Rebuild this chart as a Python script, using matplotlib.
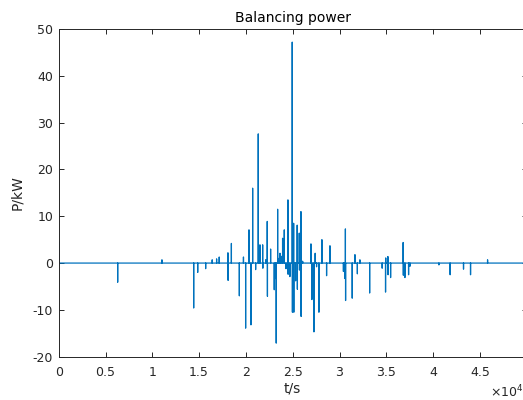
import matplotlib
matplotlib.use('Agg')
import matplotlib.pyplot as plt
import numpy as np

plt.rcParams['font.family'] = ['DejaVu Sans']
plt.rcParams['axes.unicode_minus'] = False

# spike times (s) and balancing power values (kW)
spike_t = [0, 6300, 11030, 14420, 14850, 15700, 16400, 16870, 17150,
           18080, 18100, 18450, 19300, 19740, 19970, 20330, 20540, 20720,
           21040, 21320, 21500, 21790, 21810, 22110, 22280, 22300, 22640,
           23030, 23170, 23240, 23390, 23530, 23640, 23740, 23920, 24100,
           24280, 24490, 24510, 24700, 24950, 24970, 25100, 25120, 25310,
           25480, 25500, 25700, 25720, 25880, 25900, 26060, 26950, 27050,
           27270, 27400, 27550, 27800, 28120, 28620, 28980, 30420, 30550,
           30630, 30650, 31360, 31650, 31910, 32180, 33220, 34560, 34920,
           34940, 35170, 35190, 35460, 36800, 36820, 36990, 37380, 37520,
           40620, 41820, 43250, 44000, 45820]
spike_p = [4.6, -4.1, 0.7, -9.6, -2.0, -1.2, 0.7, 0.9, 1.3,
           2.2, -3.7, 4.2, -7.0, 1.3, -13.9, 7.1, -13.2, 16.0,
           -1.4, 27.6, 3.9, 3.9, -1.1, 0.7, 8.9, -7.1, 3.0,
           -5.7, -3.3, -17.1, 11.5, 1.0, 2.1, 1.5, 5.3, 7.1,
           -1.2, 13.5, -2.4, -2.9, 47.2, -10.5, 8.5, -10.5, -3.8,
           8.1, -5.6, 6.4, -1.5, 11.0, -11.4, 0.4, 4.1, -7.8,
           -14.7, 2.1, -0.8, -10.5, 5.0, -2.7, 3.7, -1.8, -3.3,
           7.3, -8.0, -7.5, 1.8, -2.3, 0.7, -6.4, -1.1, -6.2,
           1.1, 1.4, -2.5, -3.1, 4.4, -2.6, -3.1, -2.5, -0.7,
           -0.4, -2.5, -1.3, -2.5, 0.7]
t_end = 50000

# build the sampled series: zero everywhere except one-sample pulses
t = [0.0]
p = [0.0]
for ts, ps in zip(spike_t, spike_p):
    t += [ts - 1, ts, ts + 1]
    p += [0.0, ps, 0.0]
t.append(t_end)
p.append(0.0)
t = np.array(t)
p = np.array(p)
t[1] = max(t[1], 0)

fig = plt.figure(figsize=(5.23, 4.0), dpi=100)
ax = fig.add_axes([58.7 / 523, 1 - 356.7 / 400, 468 / 523, 327.7 / 400])
ax.plot(t, p, color='#0072BD', linewidth=0.9)

ax.set_xlim(0, t_end)
ax.set_ylim(-20, 50)
ax.set_xticks(np.arange(0, 50001, 5000))
ax.set_xticklabels(['0', '0.5', '1', '1.5', '2', '2.5', '3', '3.5', '4', '4.5', '5'])
ax.set_yticks(np.arange(-20, 51, 10))

axis_col = '#262626'
for s in ax.spines.values():
    s.set_color(axis_col)
    s.set_linewidth(0.7)
ax.tick_params(direction='in', top=True, right=True, length=3.5, width=0.7,
               colors=axis_col, labelsize=9)
ax.tick_params(axis='x', pad=6.5)
ax.tick_params(axis='y', pad=4)

ax.set_title('Balancing power', fontsize=10, color='black', pad=5)
ax.set_xlabel('t/s', fontsize=10, color=axis_col, labelpad=2)
ax.set_ylabel('P/kW', fontsize=10, color=axis_col, labelpad=6)
fig.text(490 / 523, 1 - 397 / 400, r'$\mathregular{\times10^4}$', fontsize=9,
         color=axis_col, ha='left', va='baseline')

fig.savefig('out.png', dpi=100)
